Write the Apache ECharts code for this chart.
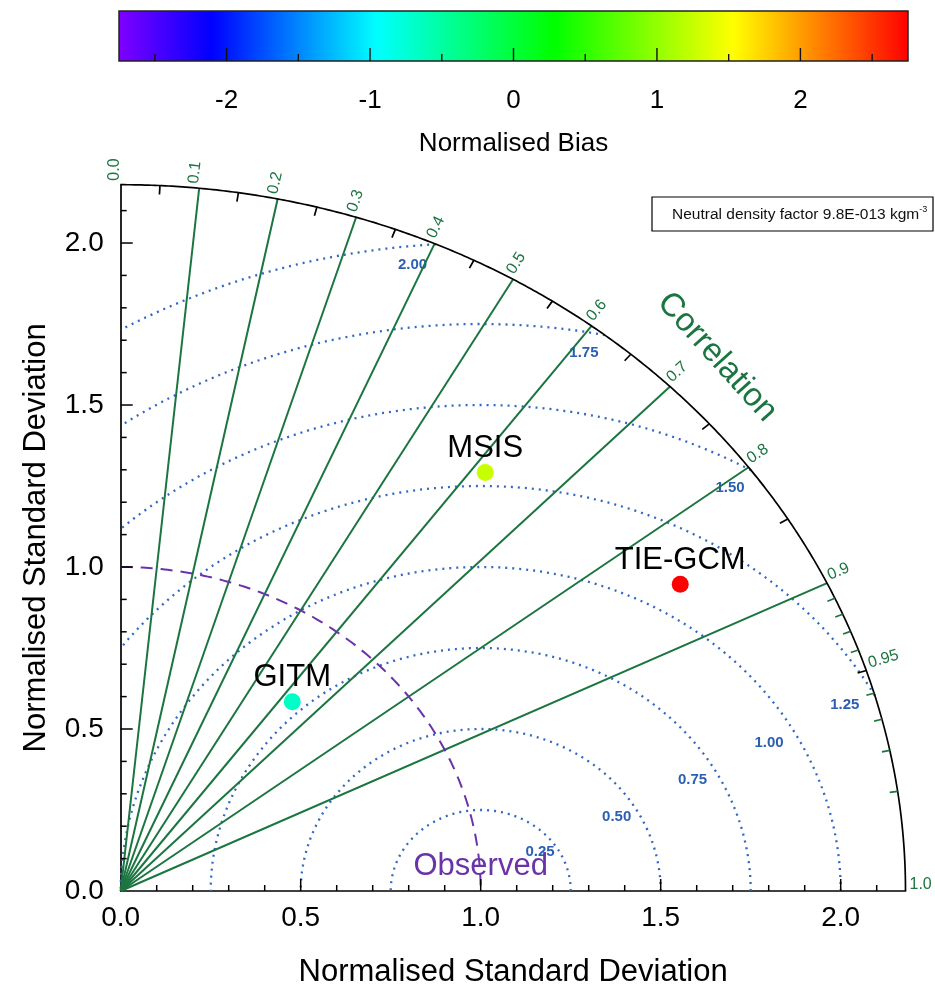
<!DOCTYPE html>
<html>
<head>
<meta charset="utf-8">
<script src="https://cdn.jsdelivr.net/npm/echarts@6/dist/echarts.min.js"></script>
<style>
  html, body { margin: 0; padding: 0; background: #ffffff; }
  #chart { width: 935px; height: 999px; }
</style>
</head>
<body>
<div id="chart"></div>
<script>
// ---- model statistics (normalised by the observations) ----
const models = ['GITM', 'MSIS', 'TIE-GCM'];
const normStd = [0.754, 1.641, 1.820];
const correlations = [0.632, 0.617, 0.854];
const normBias = [-0.68, 1.26, 2.75];

// ---- diagram scaffolding ----
const stdMax = 2.18;
const stdTicks = [0.1, 0.2, 0.3, 0.4, 0.5, 0.6, 0.7, 0.8, 0.9, 1.0, 1.1, 1.2, 1.3, 1.4, 1.5, 1.6, 1.7, 1.8, 1.9, 2.0, 2.1];
const stdMajor = [0.5, 1.0, 1.5, 2.0];
const corrRays = [0.1, 0.2, 0.3, 0.4, 0.5, 0.6, 0.7, 0.8, 0.9];
const corrLabelValues = [0.0, 0.1, 0.2, 0.3, 0.4, 0.5, 0.6, 0.7, 0.8, 0.9, 0.95, 1.0];
const corrLabelTexts = ['0.0', '0.1', '0.2', '0.3', '0.4', '0.5', '0.6', '0.7', '0.8', '0.9', '0.95', '1.0'];
const corrHalfTicks = [0.05, 0.15, 0.25, 0.35, 0.45, 0.55, 0.65, 0.75, 0.85, 0.95];
const corrFineTicks = [0.91, 0.92, 0.93, 0.94, 0.96, 0.97, 0.98, 0.99];
const rmsLevels = [0.25, 0.5, 0.75, 1.0, 1.25, 1.5, 1.75, 2.0];
const rmsTexts = ['0.25', '0.50', '0.75', '1.00', '1.25', '1.50', '1.75', '2.00'];
const observedStd = 1.0;

// ---- colour bar ----
const biasMin = -2.75;
const biasMax = 2.75;
const biasTicks = [-2.5, -2, -1.5, -1, -0.5, 0, 0.5, 1, 1.5, 2, 2.5];
const biasLabels = ['-2', '-1', '0', '1', '2'];
const biasStops = [-2.75, -2.1, -0.95, 0.28, 1.53, 2.75];
const biasColors = ['#8000ff', '#0000ff', '#00ffff', '#00ff00', '#ffff00', '#ff0000'];

// ---- layout / style ----
const FONT = '"Liberation Sans", Arial, Helvetica, sans-serif';
const GREEN = '#1b7540';
const BLUE = '#3168c4';
const BLUE_TEXT = '#2c5fb3';
const PURPLE = '#6a34a8';
// label placement for each RMS arc: [angle about the observed point (deg), distance]
const rmsLabelPolar = [[36.4, 0.205], [31.3, 0.442], [30.2, 0.681], [29.7, 0.922], [29.6, 1.163], [60.9, 1.424], [80.2, 1.685], [95.6, 1.941]];

function hexToRgb(h) {
  return [parseInt(h.slice(1, 3), 16), parseInt(h.slice(3, 5), 16), parseInt(h.slice(5, 7), 16)];
}
function biasColor(v) {
  v = Math.max(biasStops[0], Math.min(biasStops[biasStops.length - 1], v));
  for (let i = 0; i < biasStops.length - 1; i++) {
    if (v <= biasStops[i + 1]) {
      const t = (v - biasStops[i]) / (biasStops[i + 1] - biasStops[i]);
      const a = hexToRgb(biasColors[i]), b = hexToRgb(biasColors[i + 1]);
      const c = a.map((x, k) => Math.round(x + (b[k] - x) * t));
      return 'rgb(' + c.join(',') + ')';
    }
  }
  return biasColors[biasColors.length - 1];
}

function fmtStd(v) { return v.toFixed(1); }

// Taylor diagram frame: arcs, rays, ticks and their labels
function renderDiagram(params, api) {
  const P = (x, y) => api.coord([x, y]);
  const polar = (r, c) => P(r * c, r * Math.sqrt(Math.max(0, 1 - c * c)));
  const O = P(0, 0);
  const ch = [];

  // centred-RMS-difference arcs about the observed point
  rmsLevels.forEach((r, i) => {
    const t0 = (1 + r <= stdMax) ? 0 : Math.acos((stdMax * stdMax - 1 - r * r) / (2 * r));
    const t1 = r <= 1 ? Math.PI : Math.acos(-1 / r);
    const pts = [];
    const n = 240;
    for (let k = 0; k <= n; k++) {
      const t = t0 + (t1 - t0) * k / n;
      pts.push(P(observedStd + r * Math.cos(t), r * Math.sin(t)));
    }
    ch.push({ type: 'polyline', shape: { points: pts },
      style: { stroke: BLUE, lineWidth: 2.3, lineDash: [2, 5], fill: 'none' } });
    const lp = rmsLabelPolar[i];
    const a = lp[0] * Math.PI / 180;
    const q = P(observedStd + lp[1] * Math.cos(a), lp[1] * Math.sin(a));
    ch.push({ type: 'text', x: q[0], y: q[1],
      style: { text: rmsTexts[i], fill: BLUE_TEXT, font: 'bold 15px ' + FONT, align: 'center', verticalAlign: 'middle' } });
  });

  // correlation rays
  corrRays.forEach(c => {
    const e = polar(stdMax, c);
    ch.push({ type: 'line', shape: { x1: O[0], y1: O[1], x2: e[0], y2: e[1] },
      style: { stroke: GREEN, lineWidth: 2 } });
  });

  // observed standard deviation arc
  const obs = [];
  for (let k = 0; k <= 180; k++) {
    const t = Math.PI / 2 * (1 - k / 180);
    obs.push(P(observedStd * Math.cos(t), observedStd * Math.sin(t)));
  }
  ch.push({ type: 'polyline', shape: { points: obs },
    style: { stroke: PURPLE, lineWidth: 2, lineDash: [12, 8], fill: 'none' } });

  // outer correlation arc
  const outer = [];
  for (let k = 0; k <= 360; k++) {
    const t = Math.PI / 2 * k / 360;
    outer.push(P(stdMax * Math.cos(t), stdMax * Math.sin(t)));
  }
  ch.push({ type: 'polyline', shape: { points: outer },
    style: { stroke: '#000', lineWidth: 1.7, fill: 'none' } });

  // ticks on the correlation arc
  const arcTick = (c, len, color) => {
    const e = polar(stdMax, c);
    const dx = e[0] - O[0], dy = e[1] - O[1];
    const L = Math.hypot(dx, dy);
    ch.push({ type: 'line', shape: { x1: e[0], y1: e[1], x2: e[0] - dx / L * len, y2: e[1] - dy / L * len },
      style: { stroke: color, lineWidth: 1.7 } });
  };
  corrFineTicks.forEach(c => arcTick(c, 8, GREEN));
  corrHalfTicks.forEach(c => arcTick(c, 9, '#000'));

  // correlation labels, written outward along each radius
  corrLabelValues.forEach((c, i) => {
    const e = polar(stdMax, c);
    const dx = e[0] - O[0], dy = e[1] - O[1];
    ch.push({ type: 'text', x: e[0], y: e[1], rotation: Math.atan2(-dy, dx),
      style: { text: corrLabelTexts[i], x: 4, y: -6, fill: GREEN, font: '16px ' + FONT, align: 'left', verticalAlign: 'middle' } });
  });

  // ticks on the standard deviation axes (pointing inward)
  stdTicks.forEach(v => {
    const len = stdMajor.some(m => Math.abs(m - v) < 1e-6) ? 12 : 6;
    const px = P(v, 0);
    ch.push({ type: 'line', shape: { x1: px[0], y1: px[1], x2: px[0], y2: px[1] - len }, style: { stroke: '#000', lineWidth: 1.5 } });
    const py = P(0, v);
    ch.push({ type: 'line', shape: { x1: py[0], y1: py[1], x2: py[0] + len, y2: py[1] }, style: { stroke: '#000', lineWidth: 1.5 } });
  });

  // titles inside the plot
  const ct = polar(2.343, 0.707);
  const cdx = ct[0] - O[0], cdy = ct[1] - O[1];
  ch.push({ type: 'text', x: ct[0], y: ct[1] + 3, rotation: Math.atan2(-cdy, cdx) - Math.PI / 2,
    style: { text: 'Correlation', fill: GREEN, font: '33px ' + FONT, align: 'center', verticalAlign: 'middle' } });
  const ob = P(observedStd, 0.075);
  ch.push({ type: 'text', x: ob[0], y: ob[1],
    style: { text: 'Observed', fill: PURPLE, font: '31px ' + FONT, align: 'center', verticalAlign: 'middle' } });

  return { type: 'group', children: ch };
}

// colour bar fill, outline and ticks
function renderColorBar(params, api) {
  const a = api.coord([biasMin, 1]);
  const b = api.coord([biasMax, 0]);
  const span = biasStops[biasStops.length - 1] - biasStops[0];
  const stops = biasStops.map((v, i) => ({ offset: (v - biasStops[0]) / span, color: biasColors[i] }));
  const ch = [{
    type: 'rect', shape: { x: a[0], y: a[1], width: b[0] - a[0], height: b[1] - a[1] },
    style: { fill: { type: 'linear', x: 0, y: 0, x2: 1, y2: 0, colorStops: stops }, stroke: '#222', lineWidth: 1.5 }
  }];
  biasTicks.forEach(v => {
    const p = api.coord([v, 0]);
    const len = Number.isInteger(v) ? 13 : 7;
    ch.push({ type: 'line', shape: { x1: p[0], y1: p[1], x2: p[0], y2: p[1] - len }, style: { stroke: '#111', lineWidth: 1.4 } });
  });
  return { type: 'group', children: ch };
}

const chart = echarts.init(document.getElementById('chart'), null, { renderer: 'canvas' });

const option = {
  animation: false,
  backgroundColor: '#ffffff',
  textStyle: { fontFamily: FONT },
  grid: [
    { left: 120.7, top: 184.7, width: 784.8, height: 706.3 },
    { left: 119, top: 11, right: 27, height: 50 }
  ],
  xAxis: [
    {
      gridIndex: 0, type: 'value', min: 0, max: stdMax, interval: 0.5,
      axisLine: { lineStyle: { color: '#000', width: 1.7 } },
      axisTick: { show: false }, splitLine: { show: false },
      axisLabel: { formatter: fmtStd, showMaxLabel: false, fontSize: 28, color: '#000', margin: 13 },
      name: 'Normalised Standard Deviation', nameLocation: 'middle', nameGap: 66,
      nameTextStyle: { fontSize: 31, color: '#000' }
    },
    {
      gridIndex: 1, type: 'value', min: biasMin, max: biasMax, interval: 0.25,
      axisLine: { show: false }, axisTick: { show: false }, splitLine: { show: false },
      axisLabel: {
        formatter: v => { const s = biasLabels.find(t => Math.abs(Number(t) - v) < 1e-6); return s === undefined ? '' : s; },
        showMinLabel: true, showMaxLabel: true, fontSize: 26, color: '#000', margin: 27
      },
      name: 'Normalised Bias', nameLocation: 'middle', nameGap: 70,
      nameTextStyle: { fontSize: 26, color: '#000' }
    }
  ],
  yAxis: [
    {
      gridIndex: 0, type: 'value', min: 0, max: stdMax, interval: 0.5,
      axisLine: { lineStyle: { color: '#000', width: 1.7 } },
      axisTick: { show: false }, splitLine: { show: false },
      axisLabel: { formatter: fmtStd, showMaxLabel: false, fontSize: 28, color: '#000', margin: 17 },
      name: 'Normalised Standard Deviation', nameLocation: 'middle', nameGap: 69, nameRotate: 90,
      nameTextStyle: { fontSize: 31, color: '#000' }
    },
    { gridIndex: 1, type: 'value', min: 0, max: 1, show: false }
  ],
  graphic: [
    { type: 'rect', shape: { x: 652, y: 197, width: 281, height: 34 }, style: { fill: '#fff', stroke: '#000', lineWidth: 1.2 }, z: 20 },
    { type: 'text', x: 672, y: 215, z: 21,
      style: {
        text: 'Neutral density factor 9.8E-013 kgm{sup|-3}',
        fontSize: 15.5, fontFamily: FONT, fill: '#111', verticalAlign: 'middle',
        rich: { sup: { fontSize: 9, fontFamily: FONT, fill: '#111', verticalAlign: 'top', padding: [0, 0, 10, 0] } }
      } }
  ],
  series: [
    { type: 'custom', xAxisIndex: 1, yAxisIndex: 1, silent: true, data: [[0, 0]], renderItem: renderColorBar, z: 1 },
    { type: 'custom', xAxisIndex: 0, yAxisIndex: 0, silent: true, data: [[0, 0]], renderItem: renderDiagram, z: 2 },
    {
      type: 'scatter', xAxisIndex: 0, yAxisIndex: 0, silent: true, z: 10,
      symbolSize: 17,
      data: models.map((m, i) => {
        const s = Math.sqrt(1 - correlations[i] * correlations[i]);
        return { name: m, value: [normStd[i] * correlations[i], normStd[i] * s], itemStyle: { color: biasColor(normBias[i]), opacity: 1 } };
      }),
      itemStyle: { opacity: 1 },
      label: { show: true, position: 'top', distance: 0, formatter: '{b}', fontSize: 31, color: '#000', opacity: 1, fontFamily: FONT }
    }
  ]
};

chart.setOption(option);
</script>
</body>
</html>
